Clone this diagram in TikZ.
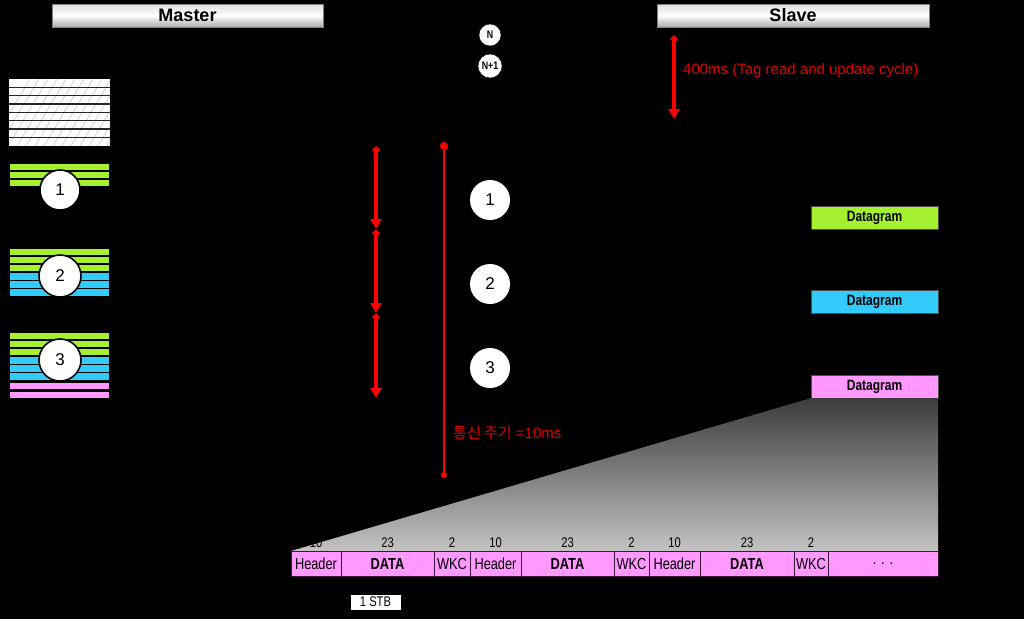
\documentclass[tikz,border=0pt]{standalone}
\usepackage{fontspec}
\setmainfont{Liberation Sans}
\newfontfamily\narrow[FakeStretch=0.8]{Liberation Sans}
\newfontfamily\kr{Noto Sans CJK KR}
\usetikzlibrary{arrows.meta,shadings}
\definecolor{lgreen}{RGB}{166,240,50}
\definecolor{lblue}{RGB}{51,204,250}
\definecolor{lpink}{RGB}{255,153,255}
\definecolor{cellline}{RGB}{60,20,60}
\definecolor{redline}{RGB}{255,0,0}
\definecolor{redtext}{RGB}{225,0,0}
\tikzset{
  titlebar/.style={draw=gray, top color=gray!25, bottom color=gray!65, middle color=white, shading angle=0, minimum height=23, inner sep=0, outer sep=0, font=\bfseries\fontsize{18}{20}\selectfont},
  numcirc/.style={circle, fill=white, draw=black, line width=1.6, minimum size=40, inner sep=0, font=\fontsize{17}{19}\selectfont},
  smallcirc/.style={circle, fill=white, draw=black, minimum size=22, inner sep=0, font=\narrow\bfseries\fontsize{11}{12}\selectfont},
  stripe/.style={draw=black, line width=1.3},
  dgram/.style={draw=black!70, minimum width=127, minimum height=23, inner sep=0, outer sep=0, font=\narrow\bfseries\fontsize{15}{17}\selectfont},
  cell/.style={draw=cellline, fill=lpink, line width=1, minimum height=25, inner sep=0, outer sep=0, font=\narrow\fontsize{16}{18}\selectfont},
  cellb/.style={cell, font=\narrow\bfseries\fontsize{16}{18}\selectfont},
  cnum/.style={font=\narrow\fontsize{14}{16}\selectfont, text=black, inner sep=0},
  redarrow/.style={draw=redline, line width=3.5, {Diamond[length=8,width=8]}-{Triangle[length=10,width=11]}},
  redtxt/.style={text=redtext, font=\fontsize{15}{17}\selectfont, inner sep=0, anchor=west},
}
\begin{document}
\begin{tikzpicture}[x=1pt,y=-1pt]
\useasboundingbox[fill=black] (0,0) rectangle (1024,619);
% title bars
\node[titlebar, minimum width=271] (master) at (187.5,15.5) {Master};
\node[titlebar, minimum width=272] (slave) at (793,15.5) {Slave};
% N circles
\node[smallcirc] (n) at (490,35) {N};
\node[smallcirc, minimum size=24] (n1) at (490,66) {N+1};
% 400ms arrow
\coordinate (a400t) at (674,35);
\coordinate (a400b) at (674,119);
\draw[redarrow] (a400t) -- (a400b);
\node[redtxt] (t400) at (683,71) {400ms (Tag read and update cycle)};
% hatched stack
\fill[white] (9,79) rectangle (110,145.6);
\begin{scope}
  \clip (9,79) rectangle (110,145.6);
  \foreach \x in {-10,-1,...,120}{
    \draw[gray!35, line width=0.8] (\x,146) -- (\x+40,79);
  }
\end{scope}
\foreach \i in {1,...,7}{
  \draw[gray!30!black, line width=1.6] (9,79+\i*8.33) -- (110,79+\i*8.33);
}
% stack 1
\foreach \i in {0,1,2}{
  \draw[stripe, fill=lgreen] (9,163+\i*8) rectangle (110,171+\i*8);
}
\node[numcirc] (c1l) at (60,190) {1};
% stack 2
\foreach \i in {0,1,2}{
  \draw[stripe, fill=lgreen] (9,248+\i*8) rectangle (110,256+\i*8);
  \draw[stripe, fill=lblue] (9,272+\i*8.33) rectangle (110,280.33+\i*8.33);
}
\node[numcirc, minimum size=42] (c2l) at (60,276) {2};
% stack 3
\foreach \i in {0,1,2}{
  \draw[stripe, fill=lgreen] (9,332+\i*8) rectangle (110,340+\i*8);
  \draw[stripe, fill=lblue] (9,356+\i*8.33) rectangle (110,364.33+\i*8.33);
}
\draw[stripe, fill=lpink] (9,382) rectangle (110,390);
\draw[stripe, fill=lpink] (9,391) rectangle (110,399);
\node[numcirc, minimum size=42] (c3l) at (60,360) {3};
% red arrows segments
\coordinate (s0) at (376,146);
\coordinate (s1) at (376,229);
\coordinate (s2) at (376,313);
\coordinate (s3) at (376,398);
\draw[redarrow] (s0) -- (s1);
\draw[redarrow] (s1) -- (s2);
\draw[redarrow] (s2) -- (s3);
% thin red line
\coordinate (ct) at (444,146);
\coordinate (cb) at (444,475);
\draw[redline, line width=1.8] (ct) -- (cb);
\fill[redline] (ct) circle (4);
\fill[redline] (cb) circle (3);
\node[redtxt] (t10) at (453,433) {{\kr 통신 주기} =10ms};
% middle circles
\node[numcirc, draw=none] (c1) at (490,200) {1};
\node[numcirc, draw=none] (c2) at (490,284) {2};
\node[numcirc, draw=none] (c3) at (490,368) {3};
% datagrams
\node[dgram, fill=lgreen] (dg1) at (874.5,217.5) {Datagram};
\node[dgram, fill=lblue] (dg2) at (874.5,301.5) {Datagram};
\node[dgram, fill=lpink] (dg3) at (874.5,386.5) {Datagram};
% shaded trapezoid
\shade[top color={rgb,255:red,60;green,60;blue,60}, bottom color={rgb,255:red,195;green,195;blue,195}]
  (dg3.south west) -- (dg3.south east) -- (938,551) -- (291,551) -- cycle;
% frame cells
\node[cell, minimum width=50] (h1) at (316,563.5) {Header};
\node[cellb, minimum width=93] (d1) at (387.5,563.5) {DATA};
\node[cell, minimum width=36] (w1) at (452,563.5) {WKC};
\node[cell, minimum width=51] (h2) at (495.5,563.5) {Header};
\node[cellb, minimum width=93] (d2) at (567.5,563.5) {DATA};
\node[cell, minimum width=35] (w2) at (631.5,563.5) {WKC};
\node[cell, minimum width=51] (h3) at (674.5,563.5) {Header};
\node[cellb, minimum width=94] (d3) at (747,563.5) {DATA};
\node[cell, minimum width=34] (w3) at (811,563.5) {WKC};
\node[cell, minimum width=110] (e1) at (883,563.5) {. . .};
% numbers
\node[cnum] (nh1) at (316,543) {10};
\node[cnum] (nd1) at (387.5,543) {23};
\node[cnum] (nw1) at (452,543) {2};
\node[cnum] (nh2) at (495.5,543) {10};
\node[cnum] (nd2) at (567.5,543) {23};
\node[cnum] (nw2) at (631.5,543) {2};
\node[cnum] (nh3) at (674.5,543) {10};
\node[cnum] (nd3) at (747,543) {23};
\node[cnum] (nw3) at (811,543) {2};
% 1 STB
\node[draw=black, fill=white, minimum width=51, minimum height=16, inner sep=0, font=\narrow\fontsize{14}{16}\selectfont] (stb) at (375.5,602) {1 STB};
\end{tikzpicture}
\end{document}
